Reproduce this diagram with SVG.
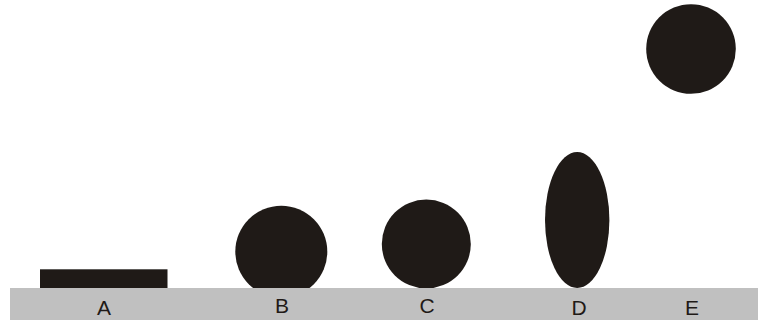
<svg xmlns="http://www.w3.org/2000/svg" width="758" height="320" viewBox="0 0 758 320">
<style>
.shape{fill:#1f1a17}
.ground{fill:#c0c0c0}
.lbl{font-family:"Liberation Sans",Arial,sans-serif;font-size:21px;fill:#1f1a17;text-anchor:middle}
</style>
<rect width="758" height="320" fill="#ffffff"/>
<g id="A"><rect class="shape" x="40" y="269.3" width="127.5" height="19"/></g>
<g id="B"><circle class="shape" cx="281.3" cy="251.7" r="46"/></g>
<g id="C"><circle class="shape" cx="426.3" cy="244" r="44.5"/></g>
<g id="D"><ellipse class="shape" cx="577.2" cy="220" rx="32.2" ry="68"/></g>
<g id="E"><circle class="shape" cx="691" cy="49" r="44.8"/></g>
<g id="ground"><rect class="ground" x="10" y="288" width="748" height="32"/></g>
<g id="labels">
<text class="lbl" x="104" y="314.5">A</text>
<text class="lbl" x="282" y="313">B</text>
<text class="lbl" x="427" y="313">C</text>
<text class="lbl" x="579" y="314.5">D</text>
<text class="lbl" x="692" y="314.5">E</text>
</g>
<g id="connectors"/>
</svg>
